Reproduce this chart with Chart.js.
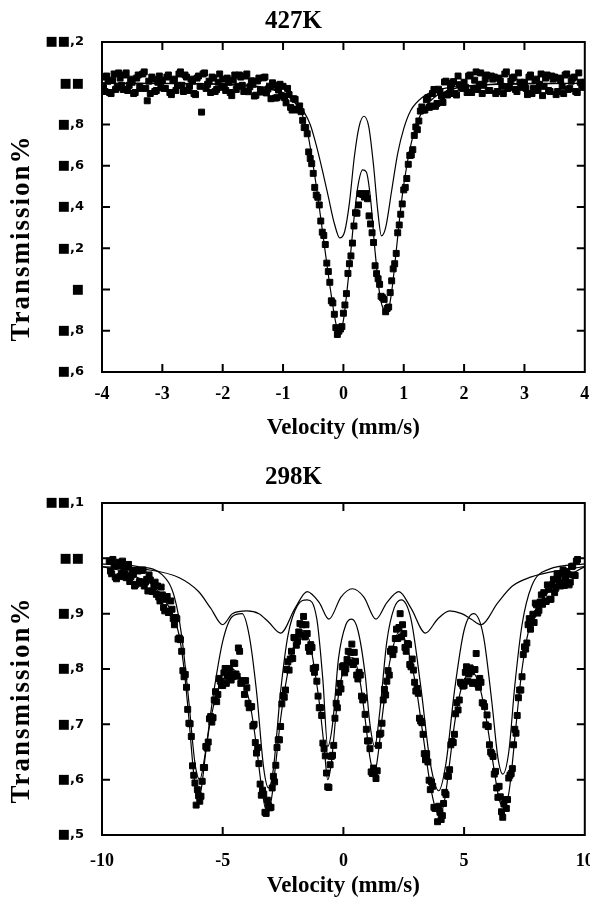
<!DOCTYPE html>
<html>
<head>
<meta charset="utf-8">
<script src="https://cdn.jsdelivr.net/npm/chart.js@4.4.1/dist/chart.umd.min.js"></script>
<style>
    html, body { margin: 0; padding: 0; background: #fff; }
    .panel { position: absolute; left: 0; width: 590px; height: 450px; }
</style>
</head>
<body>
<div class="panel" style="top:0"><canvas id="panel427" width="590" height="450"></canvas></div>
<div class="panel" style="top:450px"><canvas id="panel298" width="590" height="450"></canvas></div>
<script>
/* ---------- 427K: puntos medidos (velocidad mm/s, transmision %) ---------- */
const vel427 = [
    -4.00, -3.95, -3.90, -3.85, -3.80, -3.75, -3.70, -3.65, -3.60, -3.55,
    -3.50, -3.45, -3.40, -3.35, -3.30, -3.25, -3.20, -3.15, -3.10, -3.05,
    -3.00, -2.95, -2.90, -2.85, -2.80, -2.75, -2.70, -2.65, -2.60, -2.55,
    -2.50, -2.45, -2.40, -2.35, -2.30, -2.25, -2.20, -2.15, -2.10, -2.05,
    -2.00, -1.95, -1.90, -1.85, -1.80, -1.75, -1.70, -1.65, -1.60, -1.55,
    -1.50, -1.45, -1.40, -1.35, -1.30, -1.25, -1.20, -1.15, -1.10, -1.05,
    -1.00, -0.95, -0.90, -0.85, -0.80, -0.75, -0.70, -0.65, -0.60, -0.55,
    -0.50, -0.45, -0.40, -0.35, -0.30, -0.25, -0.20, -0.15, -0.10, -0.05,
    0.00, 0.05, 0.10, 0.15, 0.20, 0.25, 0.30, 0.35, 0.40, 0.45,
    0.50, 0.55, 0.60, 0.65, 0.70, 0.75, 0.80, 0.85, 0.90, 0.95,
    1.00, 1.05, 1.10, 1.15, 1.20, 1.25, 1.30, 1.35, 1.40, 1.45,
    1.50, 1.55, 1.60, 1.65, 1.70, 1.75, 1.80, 1.85, 1.90, 1.95,
    2.00, 2.05, 2.10, 2.15, 2.20, 2.25, 2.30, 2.35, 2.40, 2.45,
    2.50, 2.55, 2.60, 2.65, 2.70, 2.75, 2.80, 2.85, 2.90, 2.95,
    3.00, 3.05, 3.10, 3.15, 3.20, 3.25, 3.30, 3.35, 3.40, 3.45,
    3.50, 3.55, 3.60, 3.65, 3.70, 3.75, 3.80, 3.85, 3.90, 3.95,
    4.00
]
const trans427 = [
    100.030, 99.960, 100.010, 99.950, 100.045, 99.980, 100.025, 99.970, 100.050, 99.990,
    100.005, 99.955, 100.040, 99.975, 100.055, 99.915, 99.950, 100.020, 99.965, 100.035,
    100.015, 99.975, 100.040, 99.945, 100.020, 99.990, 100.055, 99.960, 100.030, 99.985,
    100.010, 99.945, 100.035, 99.860, 100.050, 99.995, 99.955, 100.025, 99.970, 100.045,
    100.020, 99.965, 100.005, 99.940, 100.040, 99.985, 100.030, 99.960, 100.045, 99.983,
    99.995, 99.942, 100.025, 99.957, 100.030, 99.972, 99.925, 99.990, 99.930, 99.995,
    99.985, 99.905, 99.945, 99.870, 99.922, 99.870, 99.862, 99.785, 99.755, 99.635,
    99.563, 99.458, 99.410, 99.278, 99.218, 99.087, 98.945, 98.880, 98.782, 98.808,
    98.885, 98.980, 99.125, 99.225, 99.372, 99.410, 99.463, 99.448, 99.440, 99.318,
    99.228, 99.077, 99.025, 98.960, 98.892, 98.915, 99.042, 99.125, 99.275, 99.365,
    99.483, 99.538, 99.650, 99.678, 99.788, 99.817, 99.885, 99.870, 99.930, 99.890,
    99.970, 99.902, 99.960, 99.907, 100.010, 99.950, 100.000, 99.950, 100.035, 99.980,
    100.005, 99.955, 100.040, 99.975, 100.055, 99.995, 99.950, 100.020, 99.965, 100.035,
    100.030, 99.960, 100.010, 99.950, 100.055, 99.980, 100.025, 99.970, 100.050, 99.990,
    100.005, 99.945, 100.040, 99.975, 100.020, 99.995, 99.940, 100.025, 99.965, 100.035,
    100.030, 99.960, 100.015, 99.950, 100.045, 99.975, 100.025, 99.960, 100.050, 99.990,
    100.005
]
/* canales intermedios */
const vel427b = [
    -3.975, -3.925, -3.875, -3.825, -3.775, -3.725, -3.675, -3.625, -3.575, -3.525,
    -3.475, -3.425, -3.375, -3.325, -3.275, -3.225, -3.175, -3.125, -3.075, -3.025,
    -2.975, -2.925, -2.875, -2.825, -2.775, -2.725, -2.675, -2.625, -2.575, -2.525,
    -2.475, -2.425, -2.375, -2.325, -2.275, -2.225, -2.175, -2.125, -2.075, -2.025,
    -1.975, -1.925, -1.875, -1.825, -1.775, -1.725, -1.675, -1.625, -1.575, -1.525,
    -1.475, -1.425, -1.375, -1.325, -1.275, -1.225, -1.175, -1.125, -1.075, -1.025,
    -0.975, -0.925, -0.875, -0.825, -0.775, -0.725, -0.675, -0.625, -0.575, -0.525,
    -0.475, -0.425, -0.375, -0.325, -0.275, -0.225, -0.175, -0.125, -0.075, -0.025,
    0.025, 0.075, 0.125, 0.175, 0.225, 0.275, 0.325, 0.375, 0.425, 0.475,
    0.525, 0.575, 0.625, 0.675, 0.725, 0.775, 0.825, 0.875, 0.925, 0.975,
    1.025, 1.075, 1.125, 1.175, 1.225, 1.275, 1.325, 1.375, 1.425, 1.475,
    1.525, 1.575, 1.625, 1.675, 1.725, 1.775, 1.825, 1.875, 1.925, 1.975,
    2.025, 2.075, 2.125, 2.175, 2.225, 2.275, 2.325, 2.375, 2.425, 2.475,
    2.525, 2.575, 2.625, 2.675, 2.725, 2.775, 2.825, 2.875, 2.925, 2.975,
    3.025, 3.075, 3.125, 3.175, 3.225, 3.275, 3.325, 3.375, 3.425, 3.475,
    3.525, 3.575, 3.625, 3.675, 3.725, 3.775, 3.825, 3.875, 3.925, 3.975
]
const trans427b = [
    99.980, 100.035, 99.955, 100.015, 99.970, 100.050, 99.990, 100.040, 99.965, 100.020,
    99.950, 100.025, 99.985, 100.045, 99.975, 100.010, 100.030, 99.960, 100.005, 99.980,
    99.975, 100.030, 99.955, 100.015, 99.965, 100.045, 99.990, 100.040, 99.965, 100.020,
    99.950, 100.025, 99.985, 100.045, 99.975, 100.010, 100.030, 99.960, 100.005, 99.980,
    99.985, 100.025, 99.955, 100.015, 99.970, 100.040, 99.990, 100.035, 99.959, 100.012,
    99.938, 100.011, 99.968, 100.026, 99.953, 99.986, 100.002, 99.928, 99.967, 99.938,
    99.930, 99.975, 99.883, 99.925, 99.875, 99.890, 99.820, 99.785, 99.667, 99.610,
    99.495, 99.447, 99.332, 99.262, 99.128, 99.035, 98.935, 98.815, 98.798, 98.820,
    98.925, 99.078, 99.163, 99.308, 99.370, 99.465, 99.460, 99.465, 99.357, 99.275,
    99.115, 99.052, 98.967, 98.952, 98.908, 98.985, 99.100, 99.175, 99.313, 99.415,
    99.495, 99.607, 99.652, 99.747, 99.775, 99.865, 99.870, 99.920, 99.883, 99.950,
    99.888, 99.971, 99.938, 100.006, 99.943, 99.982, 100.008, 99.943, 99.993, 99.975,
    99.980, 100.035, 99.955, 100.015, 99.970, 100.050, 99.990, 100.040, 99.965, 100.020,
    99.950, 100.025, 99.985, 100.045, 99.975, 100.010, 100.030, 99.960, 100.005, 99.980,
    99.975, 100.030, 99.950, 100.015, 99.965, 100.045, 99.985, 100.040, 99.960, 100.020,
    99.945, 100.025, 99.985, 100.040, 99.970, 100.010, 100.030, 99.955, 100.005, 99.980
]

/* ajuste total y subespectro (doblete) */
const ajusteVel427 = [-4, -3, -2, -1.5, -1.2, -1.0, -0.85, -0.7, -0.6, -0.5, -0.4, -0.3, -0.2, -0.12, -0.06,
    0.0, 0.08, 0.16, 0.24, 0.32, 0.38, 0.45, 0.52, 0.6, 0.67, 0.73, 0.8, 0.88, 0.96, 1.05, 1.15, 1.3, 1.5, 1.8, 2.2, 3, 4]
const ajusteTotal427 = [100.0, 100.0, 99.995, 99.985, 99.97, 99.95, 99.92, 99.86, 99.77, 99.6, 99.4, 99.18, 98.97, 98.83, 98.79,
    98.85, 99.05, 99.3, 99.5, 99.58, 99.57, 99.44, 99.2, 98.98, 98.9, 98.89, 98.99, 99.2, 99.42, 99.6, 99.74, 99.86, 99.93, 99.97, 99.99, 100.0, 100.0]
const dobleteVel427 = [-4, -2, -1.3, -1.0, -0.8, -0.65, -0.55, -0.45, -0.35, -0.25, -0.15, -0.06, 0.02, 0.1, 0.18,
    0.26, 0.34, 0.42, 0.5, 0.57, 0.63, 0.7, 0.8, 0.9, 1.0, 1.12, 1.3, 1.6, 2.2, 4]
const doblete427 = [100.0, 99.995, 99.98, 99.955, 99.92, 99.86, 99.8, 99.7, 99.58, 99.45, 99.32, 99.25, 99.28, 99.42, 99.64,
    99.79, 99.84, 99.79, 99.6, 99.38, 99.26, 99.3, 99.48, 99.66, 99.78, 99.87, 99.93, 99.97, 99.99, 100.0]

const xTicks427 = [-4, -3, -2, -1, 0, 1, 2, 3, 4]
const yTicks427 = [100.2, 100, 99.8, 99.6, 99.4, 99.2, 99, 98.8, 98.6]
const yEtiquetas427 = ['■■,2', '■■', '■,8', '■,6', '■,4', '■,2', '■', '■,8', '■,6']

/* ---------- 298K: puntos medidos ---------- */
const vel298 = [
    -9.7, -9.6, -9.5, -9.4, -9.3, -9.2, -9.1, -9.0, -8.9, -8.8,
    -8.7, -8.6, -8.5, -8.4, -8.3, -8.2, -8.1, -8.0, -7.9, -7.8,
    -7.7, -7.6, -7.5, -7.4, -7.3, -7.2, -7.1, -7.0, -6.9, -6.8,
    -6.7, -6.6, -6.5, -6.4, -6.3, -6.2, -6.1, -6.0, -5.9, -5.8,
    -5.7, -5.6, -5.5, -5.4, -5.3, -5.2, -5.1, -5.0, -4.9, -4.8,
    -4.7, -4.6, -4.5, -4.4, -4.3, -4.2, -4.1, -4.0, -3.9, -3.8,
    -3.7, -3.6, -3.5, -3.4, -3.3, -3.2, -3.1, -3.0, -2.9, -2.8,
    -2.7, -2.6, -2.5, -2.4, -2.3, -2.2, -2.1, -2.0, -1.9, -1.8,
    -1.7, -1.6, -1.5, -1.4, -1.3, -1.2, -1.1, -1.0, -0.9, -0.8,
    -0.7, -0.6, -0.5, -0.4, -0.3, -0.2, -0.1, 0.0, 0.1, 0.2,
    0.3, 0.4, 0.5, 0.6, 0.7, 0.8, 0.9, 1.0, 1.1, 1.2,
    1.3, 1.4, 1.5, 1.6, 1.7, 1.8, 1.9, 2.0, 2.1, 2.2,
    2.3, 2.4, 2.5, 2.6, 2.7, 2.8, 2.9, 3.0, 3.1, 3.2,
    3.3, 3.4, 3.5, 3.6, 3.7, 3.8, 3.9, 4.0, 4.1, 4.2,
    4.3, 4.4, 4.5, 4.6, 4.7, 4.8, 4.9, 5.0, 5.1, 5.2,
    5.3, 5.4, 5.5, 5.6, 5.7, 5.8, 5.9, 6.0, 6.1, 6.2,
    6.3, 6.4, 6.5, 6.6, 6.7, 6.8, 6.9, 7.0, 7.1, 7.2,
    7.3, 7.4, 7.5, 7.6, 7.7, 7.8, 7.9, 8.0, 8.1, 8.2,
    8.3, 8.4, 8.5, 8.6, 8.7, 8.8, 8.9, 9.0, 9.1, 9.2,
    9.3, 9.4, 9.5, 9.6, 9.7
]
const trans298 = [
    99.995, 99.972, 99.986, 99.963, 99.993, 99.972, 99.984, 99.965, 99.989, 99.967,
    99.971, 99.953, 99.977, 99.955, 99.979, 99.957, 99.941, 99.961, 99.940, 99.957,
    99.950, 99.923, 99.934, 99.905, 99.931, 99.904, 99.908, 99.880, 99.891, 99.856,
    99.832, 99.786, 99.767, 99.702, 99.678, 99.608, 99.554, 99.571, 99.570, 99.622,
    99.660, 99.668, 99.714, 99.712, 99.759, 99.754, 99.778, 99.770, 99.801, 99.786,
    99.797, 99.786, 99.810, 99.787, 99.832, 99.778, 99.754, 99.766, 99.730, 99.732,
    99.700, 99.648, 99.629, 99.572, 99.574, 99.539, 99.553, 99.550, 99.606, 99.626,
    99.672, 99.696, 99.752, 99.762, 99.813, 99.818, 99.819, 99.856, 99.850, 99.882,
    99.880, 99.858, 99.864, 99.832, 99.839, 99.794, 99.778, 99.730, 99.716, 99.656,
    99.612, 99.586, 99.642, 99.662, 99.738, 99.758, 99.764, 99.806, 99.800, 99.832,
    99.830, 99.808, 99.814, 99.782, 99.789, 99.744, 99.718, 99.670, 99.656, 99.611,
    99.612, 99.616, 99.682, 99.702, 99.763, 99.778, 99.789, 99.836, 99.835, 99.872,
    99.875, 99.858, 99.864, 99.832, 99.844, 99.804, 99.798, 99.760, 99.756, 99.706,
    99.682, 99.636, 99.632, 99.582, 99.588, 99.548, 99.524, 99.541, 99.535, 99.577,
    99.607, 99.618, 99.669, 99.682, 99.739, 99.744, 99.773, 99.770, 99.804, 99.791,
    99.795, 99.776, 99.828, 99.767, 99.776, 99.738, 99.699, 99.696, 99.650, 99.642,
    99.615, 99.568, 99.569, 99.532, 99.564, 99.564, 99.608, 99.620, 99.691, 99.716,
    99.762, 99.786, 99.840, 99.847, 99.891, 99.888, 99.884, 99.916, 99.906, 99.934,
    99.938, 99.922, 99.944, 99.926, 99.962, 99.946, 99.964, 99.950, 99.979, 99.962,
    99.971, 99.957, 99.986, 99.969, 99.998
]
/* canales intermedios */
const vel298b = [
    -9.65, -9.55, -9.45, -9.35, -9.25, -9.15, -9.05, -8.95, -8.85, -8.75,
    -8.65, -8.55, -8.45, -8.35, -8.25, -8.15, -8.05, -7.95, -7.85, -7.75,
    -7.65, -7.55, -7.45, -7.35, -7.25, -7.15, -7.05, -6.95, -6.85, -6.75,
    -6.65, -6.55, -6.45, -6.35, -6.25, -6.15, -6.05, -5.95, -5.85, -5.75,
    -5.65, -5.55, -5.45, -5.35, -5.25, -5.15, -5.05, -4.95, -4.85, -4.75,
    -4.65, -4.55, -4.45, -4.35, -4.25, -4.15, -4.05, -3.95, -3.85, -3.75,
    -3.65, -3.55, -3.45, -3.35, -3.25, -3.15, -3.05, -2.95, -2.85, -2.75,
    -2.65, -2.55, -2.45, -2.35, -2.25, -2.15, -2.05, -1.95, -1.85, -1.75,
    -1.65, -1.55, -1.45, -1.35, -1.25, -1.15, -1.05, -0.95, -0.85, -0.75,
    -0.65, -0.55, -0.45, -0.35, -0.25, -0.15, -0.05, 0.05, 0.15, 0.25,
    0.35, 0.45, 0.55, 0.65, 0.75, 0.85, 0.95, 1.05, 1.15, 1.25,
    1.35, 1.45, 1.55, 1.65, 1.75, 1.85, 1.95, 2.05, 2.15, 2.25,
    2.35, 2.45, 2.55, 2.65, 2.75, 2.85, 2.95, 3.05, 3.15, 3.25,
    3.35, 3.45, 3.55, 3.65, 3.75, 3.85, 3.95, 4.05, 4.15, 4.25,
    4.35, 4.45, 4.55, 4.65, 4.75, 4.85, 4.95, 5.05, 5.15, 5.25,
    5.35, 5.45, 5.55, 5.65, 5.75, 5.85, 5.95, 6.05, 6.15, 6.25,
    6.35, 6.45, 6.55, 6.65, 6.75, 6.85, 6.95, 7.05, 7.15, 7.25,
    7.35, 7.45, 7.55, 7.65, 7.75, 7.85, 7.95, 8.05, 8.15, 8.25,
    8.35, 8.45, 8.55, 8.65, 8.75, 8.85, 8.95, 9.05, 9.15, 9.25,
    9.35, 9.45, 9.55, 9.65
]
const trans298b = [
    99.977, 99.998, 99.966, 99.986, 99.967, 99.995, 99.972, 99.984, 99.958, 99.978,
    99.950, 99.978, 99.958, 99.978, 99.950, 99.962, 99.970, 99.941, 99.950, 99.935,
    99.930, 99.948, 99.911, 99.926, 99.902, 99.923, 99.891, 99.893, 99.854, 99.853,
    99.797, 99.790, 99.727, 99.701, 99.625, 99.594, 99.582, 99.561, 99.597, 99.622,
    99.657, 99.710, 99.704, 99.744, 99.741, 99.783, 99.771, 99.793, 99.774, 99.801,
    99.780, 99.811, 99.791, 99.838, 99.774, 99.779, 99.779, 99.738, 99.732, 99.697,
    99.667, 99.658, 99.592, 99.581, 99.541, 99.563, 99.549, 99.585, 99.596, 99.658,
    99.672, 99.737, 99.749, 99.799, 99.798, 99.832, 99.857, 99.843, 99.867, 99.862,
    99.895, 99.880, 99.839, 99.844, 99.801, 99.803, 99.751, 99.730, 99.666, 99.643,
    99.587, 99.627, 99.644, 99.711, 99.730, 99.774, 99.804, 99.793, 99.817, 99.812,
    99.845, 99.830, 99.789, 99.794, 99.751, 99.748, 99.691, 99.670, 99.614, 99.621,
    99.602, 99.662, 99.684, 99.744, 99.753, 99.797, 99.832, 99.826, 99.855, 99.855,
    99.900, 99.880, 99.839, 99.846, 99.808, 99.818, 99.776, 99.765, 99.711, 99.703,
    99.647, 99.647, 99.599, 99.596, 99.550, 99.549, 99.552, 99.528, 99.557, 99.573,
    99.606, 99.663, 99.667, 99.719, 99.726, 99.776, 99.769, 99.794, 99.778, 99.802,
    99.774, 99.799, 99.773, 99.783, 99.739, 99.732, 99.717, 99.663, 99.647, 99.610,
    99.585, 99.588, 99.542, 99.556, 99.548, 99.603, 99.611, 99.663, 99.684, 99.748,
    99.762, 99.826, 99.836, 99.880, 99.872, 99.899, 99.919, 99.901, 99.921, 99.917,
    99.923, 99.952, 99.926, 99.952, 99.938, 99.972, 99.954, 99.972, 99.951, 99.976,
    99.952, 99.985, 99.970, 99.995
]

/* ajuste total y los dos sextetos */
const ajusteVel298 = [-10, -9, -8.5, -8, -7.5, -7.2, -7.0, -6.8, -6.6, -6.4, -6.2, -6.05, -5.9, -5.7, -5.5, -5.2, -5.0,
    -4.6, -4.2, -4.0, -3.8, -3.6, -3.4, -3.2, -3.0, -2.8, -2.6, -2.4, -2.1, -1.7, -1.4, -1.2, -1.0, -0.8, -0.65,
    -0.5, -0.3, -0.1, 0.2, 0.4, 0.7, 0.9, 1.1, 1.28, 1.45, 1.6, 1.8, 2.0, 2.35, 2.7, 3.0, 3.3, 3.6, 3.8, 3.98,
    4.2, 4.4, 4.6, 4.8, 5.0, 5.3, 5.6, 5.9, 6.2, 6.45, 6.65, 6.85, 7.0, 7.2, 7.4, 7.6, 7.8, 8.0, 8.5, 9.0, 10]
const ajusteTotal298 = [99.985, 99.975, 99.965, 99.955, 99.93, 99.91, 99.89, 99.86, 99.80, 99.71, 99.61, 99.565, 99.58, 99.65, 99.71, 99.76, 99.78,
    99.80, 99.78, 99.76, 99.72, 99.66, 99.59, 99.545, 99.56, 99.63, 99.71, 99.77, 99.835, 99.87, 99.85, 99.80, 99.74, 99.66, 99.60,
    99.63, 99.72, 99.78, 99.82, 99.82, 99.775, 99.71, 99.64, 99.61, 99.65, 99.71, 99.78, 99.83, 99.87, 99.83, 99.77, 99.68, 99.59, 99.55, 99.535,
    99.565, 99.63, 99.70, 99.75, 99.78, 99.795, 99.775, 99.715, 99.63, 99.565, 99.55, 99.575, 99.63, 99.72, 99.80, 99.855, 99.89, 99.91, 99.94, 99.96, 99.985]
const sextetoAVel298 = [-10, -8.5, -7.5, -7.0, -6.7, -6.4, -6.15, -5.95, -5.75, -5.4, -5.0, -4.6, -4.2, -3.9, -3.6, -3.3, -3.1,
    -2.9, -2.6, -2.3, -1.9, -1.5, -1.1, -0.85, -0.65, -0.45, -0.2, 0.1, 0.35, 0.6, 0.9, 1.1, 1.3, 1.5, 1.8, 2.1, 2.4,
    2.8, 3.2, 3.6, 3.95, 4.25, 4.6, 5.0, 5.4, 5.8, 6.15, 6.4, 6.6, 6.85, 7.1, 7.4, 7.8, 8.5, 10]
const sextetoA298 = [99.99, 99.985, 99.97, 99.93, 99.86, 99.74, 99.63, 99.6, 99.64, 99.75, 99.85, 99.895, 99.9, 99.86, 99.76, 99.62, 99.585,
    99.62, 99.76, 99.86, 99.915, 99.925, 99.89, 99.78, 99.66, 99.7, 99.82, 99.88, 99.89, 99.87, 99.79, 99.7, 99.66, 99.72, 99.85, 99.91, 99.925,
    99.89, 99.77, 99.63, 99.58, 99.63, 99.76, 99.87, 99.9, 99.86, 99.74, 99.64, 99.61, 99.65, 99.77, 99.88, 99.95, 99.98, 99.99]
const sextetoBVel298 = [-10, -8.2, -6.8, -6.0, -5.5, -5.0, -4.6, -4.0, -3.5, -3.1, -2.6, -2.0, -1.5, -1.0, -0.6, -0.1, 0.37,
    0.85, 1.35, 1.8, 2.3, 2.8, 3.4, 3.9, 4.4, 4.9, 5.3, 5.7, 6.4, 7.0, 7.75, 9.2, 10]
const sextetoB298 = [99.985, 99.98, 99.965, 99.94, 99.91, 99.88, 99.9, 99.905, 99.9, 99.885, 99.865, 99.91, 99.94, 99.92, 99.89, 99.93, 99.945,
    99.93, 99.89, 99.92, 99.94, 99.91, 99.865, 99.89, 99.905, 99.9, 99.89, 99.88, 99.92, 99.95, 99.966, 99.98, 99.985]

const xTicks298 = [-10, -5, 0, 5, 10]
const yTicks298 = [100.1, 100, 99.9, 99.8, 99.7, 99.6, 99.5]
const yEtiquetas298 = ['■■,1', '■■', '■,9', '■,8', '■,7', '■,6', '■,5']

Chart.defaults.font.family = '"Liberation Serif", "DejaVu Sans", serif'
Chart.defaults.font.weight = 'bold'
Chart.defaults.color = '#000'

function pares(xs, ys) {
    return xs.map((x, i) => ({ x: x, y: ys[i] }))
}

/* marco negro y marcas de escala hacia adentro en los cuatro lados */
const marco = {
    id: 'marco',
    afterDatasetsDraw(chart) {
        const { ctx, chartArea: a, scales } = chart
        ctx.save()
        ctx.strokeStyle = '#000'
        ctx.lineWidth = 2
        ctx.beginPath()
        scales.x.ticks.forEach(t => {
            const px = scales.x.getPixelForValue(t.value)
            if (px < a.left + 2 || px > a.right - 2) return
            ctx.moveTo(px, a.bottom); ctx.lineTo(px, a.bottom - 8)
            ctx.moveTo(px, a.top); ctx.lineTo(px, a.top + 8)
        })
        scales.y.ticks.forEach(t => {
            const py = scales.y.getPixelForValue(t.value)
            if (py < a.top + 2 || py > a.bottom - 2) return
            ctx.moveTo(a.left, py); ctx.lineTo(a.left + 8, py)
            ctx.moveTo(a.right, py); ctx.lineTo(a.right - 8, py)
        })
        ctx.stroke()
        ctx.strokeRect(a.left, a.top, a.right - a.left, a.bottom - a.top)
        ctx.restore()
    }
}

/* titulo vertical del eje y, algo por debajo del centro */
const tituloY = {
    id: 'tituloY',
    afterDraw(chart, args, opts) {
        const { ctx, chartArea: a } = chart
        ctx.save()
        ctx.font = 'bold 27px "Liberation Serif"'
        ctx.letterSpacing = '2px'
        ctx.fillStyle = '#000'
        ctx.textAlign = 'center'
        ctx.textBaseline = 'middle'
        ctx.translate(opts.x, (a.top + a.bottom) / 2 + opts.dy)
        ctx.rotate(-Math.PI / 2)
        ctx.fillText(opts.texto, 0, 0)
        ctx.restore()
    }
}

function grafico_Panel(id, p) {

    const ctx = document.getElementById(id)

    const puntos = {
        data: pares(p.vel, p.trans),
        pointStyle: 'rect',
        pointRadius: 4.2,
        backgroundColor: '#000',
        borderColor: '#000',
        borderWidth: 1,
        order: 2
    }

    const lineas = p.lineas.map(l => ({
        data: pares(l[0], l[1]),
        showLine: true,
        pointRadius: 0,
        borderColor: '#000',
        borderWidth: 1.2,
        cubicInterpolationMode: 'monotone',
        order: 1
    }))

    new Chart(ctx, {
        type: 'scatter',
        data: { datasets: [puntos].concat(lineas) },
        options: {
            responsive: false,
            animation: false,
            layout: { padding: { left: 0, right: 3, top: 0, bottom: 0 } },
            plugins: {
                legend: { display: false },
                tooltip: { enabled: false },
                title: {
                    display: true,
                    text: p.titulo,
                    color: '#000',
                    font: { size: 25, weight: 'bold' },
                    padding: p.padTitulo
                },
                tituloY: { texto: 'Transmission%', x: 22, dy: 31 }
            },
            scales: {
                x: {
                    type: 'linear',
                    min: p.xTicks[0],
                    max: p.xTicks[p.xTicks.length - 1],
                    afterBuildTicks: s => { s.ticks = p.xTicks.map(v => ({ value: v })) },
                    afterFit: s => { s.height = p.altoX; s.paddingLeft = 0; s.paddingRight = 0 },
                    grid: { display: false, drawTicks: false },
                    border: { display: false },
                    ticks: { padding: p.padTicksX, font: { size: 18 }, maxRotation: 0, autoSkip: false },
                    title: {
                        display: true,
                        text: 'Velocity (mm/s)',
                        font: { size: 23 },
                        padding: { top: 0, bottom: p.padTituloX }
                    }
                },
                y: {
                    type: 'linear',
                    min: p.yTicks[p.yTicks.length - 1],
                    max: p.yTicks[0],
                    afterBuildTicks: s => { s.ticks = p.yTicks.map(v => ({ value: v })) },
                    afterFit: s => { s.width = 102; s.paddingTop = 0; s.paddingBottom = 0 },
                    grid: { display: false, drawTicks: false },
                    border: { display: false },
                    ticks: {
                        padding: 18,
                        font: { family: '"DejaVu Sans"', size: 13 },
                        autoSkip: false,
                        callback: value => {
                            const i = p.yTicks.findIndex(v => Math.abs(v - value) < 1e-6)
                            return p.yEtiquetas[i]
                        }
                    }
                }
            }
        },
        plugins: [marco, tituloY]
    })
}

grafico_Panel('panel427', {
    titulo: '427K',
    vel: vel427.concat(vel427b),
    trans: trans427.concat(trans427b),
    lineas: [[ajusteVel427, ajusteTotal427], [dobleteVel427, doblete427]],
    xTicks: xTicks427,
    yTicks: yTicks427,
    yEtiquetas: yEtiquetas427,
    padTitulo: { top: 7, bottom: 5 },
    altoX: 78,
    padTicksX: 12,
    padTituloX: 8
})

grafico_Panel('panel298', {
    titulo: '298K',
    vel: vel298.concat(vel298b),
    trans: trans298.concat(trans298b),
    lineas: [[ajusteVel298, ajusteTotal298], [sextetoAVel298, sextetoA298], [sextetoBVel298, sextetoB298]],
    xTicks: xTicks298,
    yTicks: yTicks298,
    yEtiquetas: yEtiquetas298,
    padTitulo: { top: 13, bottom: 10 },
    altoX: 65,
    padTicksX: 16,
    padTituloX: 0
})
</script>
</body>
</html>
